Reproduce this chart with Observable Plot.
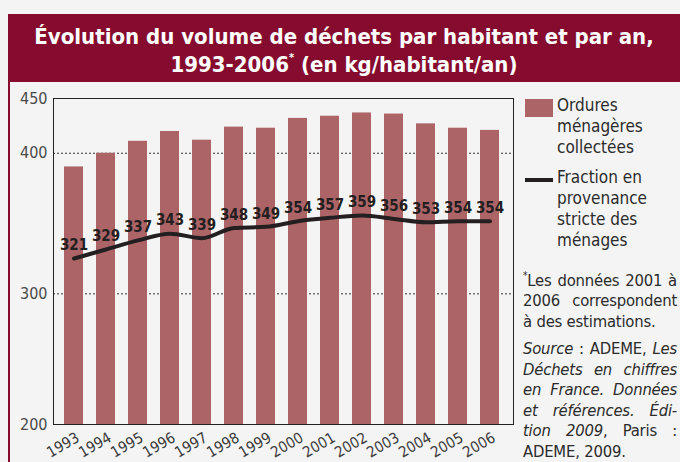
<!DOCTYPE html>
<html><head><meta charset="utf-8">
<script src="https://cdn.jsdelivr.net/npm/d3@7"></script>
<script src="https://cdn.jsdelivr.net/npm/@observablehq/plot@0.6"></script>
<style>
html,body{margin:0;padding:0;}
body{background:#f4f4f4;width:680px;height:462px;overflow:hidden;position:relative;
  font-family:"DejaVu Sans Condensed","DejaVu Sans",sans-serif;font-stretch:condensed;color:#2b2b2b;}
#title{position:absolute;left:8px;top:14px;width:672px;height:68px;background:#850c2e;color:#fff;
  font-weight:bold;font-size:22px;line-height:28px;text-align:center;box-sizing:border-box;padding-top:9px;}
#title sup{font-size:11px;vertical-align:top;line-height:10px;position:relative;top:2px;}
#edge{position:absolute;left:8px;top:82px;width:2px;height:380px;background:#850c2e;}
#chart{position:absolute;left:0;top:82px;width:680px;height:380px;}
.leg{position:absolute;font-size:17px;line-height:21px;color:#2b2b2b;}
.sw{position:absolute;}
.note{position:absolute;left:523px;width:154px;font-size:16.5px;letter-spacing:-0.2px;line-height:20.5px;color:#2b2b2b;}
.note div{white-space:nowrap;}
.note div.j{text-align:justify;text-align-last:justify;}
.note sup{font-size:10px;vertical-align:top;line-height:10px;}
</style></head>
<body>
<div id="title">Évolution du volume de déchets par habitant et par an,<br>1993-2006<sup>*</sup> (en kg/habitant/an)</div>
<div id="edge"></div>
<div id="chart"></div>
<div class="sw" style="left:525px;top:99px;width:28px;height:18px;background:#ad6467;"></div>
<div class="leg" style="left:557px;top:94.6px;">Ordures<br>ménagères<br>collectées</div>
<div class="sw" style="left:525px;top:178px;width:28px;height:4px;background:#231f20;"></div>
<div class="leg" style="left:557px;top:166.6px;">Fraction en<br>provenance<br>stricte des<br>ménages</div>
<div class="note" style="top:270.7px;">
  <div class="j"><sup>*</sup>Les données 2001 à</div>
  <div class="j">2006 correspondent</div>
  <div>à des estimations.</div>
</div>
<div class="note" style="top:339.1px;">
  <div class="j"><i>Source</i> : ADEME, <i>Les</i></div>
  <div class="j"><i>Déchets en chiffres</i></div>
  <div class="j"><i>en France. Données</i></div>
  <div class="j"><i>et références. Édi-</i></div>
  <div class="j"><i>tion 2009</i>, Paris :</div>
  <div>ADEME, 2009.</div>
</div>
<script>
const years = ["1993","1994","1995","1996","1997","1998","1999","2000","2001","2002","2003","2004","2005","2006"];
const orduresMenageres = [391, 400, 411, 420, 412, 424, 423, 432, 434, 437, 436, 427, 423, 421];
const fractionMenages = [321, 329, 337, 343, 339, 348, 349, 354, 357, 359, 356, 353, 354, 354];
const yTickValues = [200, 300, 400, 450];
const gridValues = [300, 400];

// The source chart's value axis is not uniform (uneven tick spacing); reproduce it with a piecewise warp.
const yWarp = d3.scaleLinear()
  .domain([200, 300, 321, 359, 400, 450])
  .range([200, 300.3, 327.4, 360.4, 408.2, 450]);

const data = years.map((year, i) => ({year, ordures: orduresMenageres[i], fraction: fractionMenages[i]}));

const chart = Plot.plot({
  width: 680,
  height: 380,
  marginLeft: 53,
  marginRight: 167,
  marginTop: 16,
  marginBottom: 38,
  style: "background: transparent; font-family: 'DejaVu Sans Condensed', 'DejaVu Sans', sans-serif; font-stretch: condensed; overflow: visible;",
  x: {type: "band", domain: years, range: [54.27, 508.7], paddingInner: 0.415, paddingOuter: 0.2075, axis: null},
  y: {type: "linear", domain: [200, 450], range: [342, 16.3], transform: v => yWarp(v), axis: null},
  marks: [
    Plot.gridY(gridValues, {stroke: "#333", strokeOpacity: 1, strokeDasharray: "2,2"}),
    Plot.barY(data, {x: "year", y1: () => 200, y2: "ordures", fill: "#ad6467"}),
    Plot.frame({stroke: "#222"}),
    Plot.lineY(data, {x: "year", y: "fraction", stroke: "#231f20", strokeWidth: 4, curve: "monotone-x"}),
    Plot.text(data, {x: "year", y: "fraction", text: d => String(d.fraction), dy: -13, fontSize: 15, fontWeight: "bold", fill: "#231f20"}),
    Plot.axisY(yTickValues, {tickSize: 0, tickPadding: 6, fontSize: 16, fill: "#4a4a4a", label: null}),
    Plot.text(years, {x: d => d, frameAnchor: "bottom", rotate: -30, textAnchor: "end", lineAnchor: "top", dx: 1, dy: 7, fontSize: 15, fill: "#3a3a3a"})
  ]
});
document.getElementById("chart").appendChild(chart);
</script>
</body></html>
